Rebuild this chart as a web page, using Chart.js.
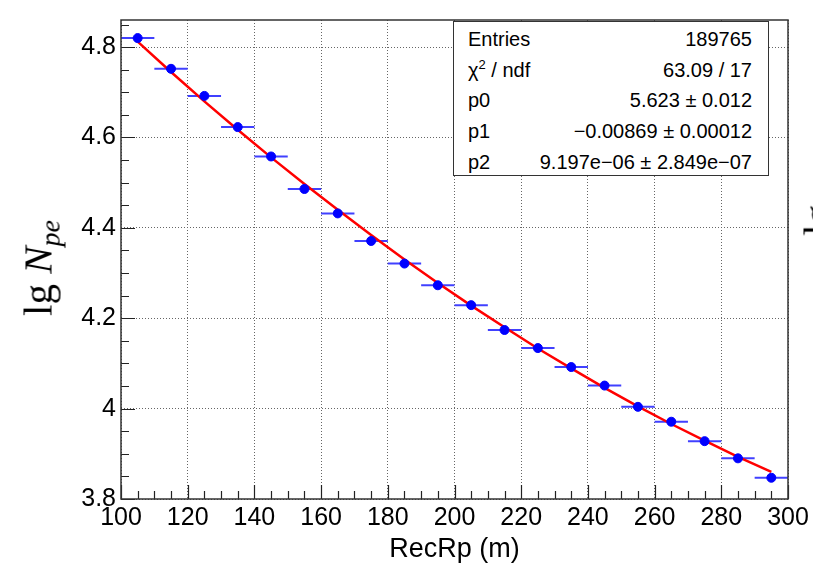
<!DOCTYPE html>
<html>
<head>
<meta charset="utf-8">
<script src="https://cdn.jsdelivr.net/npm/chart.js@4.4.1/dist/chart.umd.min.js"></script>
<style>
  html, body { margin: 0; padding: 0; background: #fff; overflow: hidden; }
  #wrap { position: relative; width: 813px; height: 569px; overflow: hidden; }
  #c { position: absolute; left: 0; top: 0; }
  #ytitle {
    position: absolute; left: 40px; top: 268px;
    transform: translate(-50%, -50%) rotate(-90deg);
    font-family: "Liberation Serif", "DejaVu Serif", serif; font-size: 41px;
    white-space: nowrap; color: #000;
  }
  #ytitle i { font-style: italic; }
  #ytitle sub { font-size: 28px; vertical-align: -8px; font-style: italic; }
  #stats {
    position: absolute; left: 453px; top: 21px; width: 316px; height: 155px;
    border: 1.5px solid #333; background: #fff;
    font-family: "Liberation Sans", Arial, sans-serif; font-size: 20px; color: #000;
    box-sizing: border-box; padding: 2px 16px 0 14px;
  }
  #stats .row { display: flex; justify-content: space-between; height: 30.7px; line-height: 30px; }
  #stats sup { font-size: 13px; vertical-align: 8px; line-height: 0; }
  #edge {
    position: absolute; left: 818px; top: 220px;
    transform: translate(-50%, -50%) rotate(-90deg);
    font-family: "Liberation Serif", serif; font-size: 40px; color: #000;
  }
</style>
</head>
<body>
<div id="wrap">
  <canvas id="c" width="813" height="569"></canvas>
  <div id="ytitle">lg <i>N</i><sub>pe</sub></div>
  <div id="stats">
    <div class="row"><span>Entries</span><span>189765</span></div>
    <div class="row"><span>&chi;<sup>2</sup> / ndf</span><span>63.09 / 17</span></div>
    <div class="row"><span>p0</span><span>5.623 &plusmn; 0.012</span></div>
    <div class="row"><span>p1</span><span>&minus;0.00869 &plusmn; 0.00012</span></div>
    <div class="row"><span>p2</span><span>9.197e&minus;06 &plusmn; 2.849e&minus;07</span></div>
  </div>
  <div id="edge">lg</div>
</div>
<script>
// bin centres (RecRp, m) and profile means
const rpCenters = [105, 115, 125, 135, 145, 155, 165, 175, 185, 195,
                   205, 215, 225, 235, 245, 255, 265, 275, 285, 295];
const lgNpe = [4.820, 4.752, 4.692, 4.623, 4.558, 4.486, 4.432, 4.371, 4.321, 4.273,
               4.229, 4.174, 4.134, 4.092, 4.051, 4.004, 3.971, 3.928, 3.890, 3.847];
const rpHalfWidth = [5, 5, 5, 5, 5, 5, 5, 5, 5, 5, 5, 5, 5, 5, 5, 5, 5, 5, 5, 5];

// pol2 fit curve
const fitRp = [105, 115, 125, 135, 145, 155, 165, 175, 185, 195,
               205, 215, 225, 235, 245, 255, 265, 275, 285, 295];
const fitLg = [4.812, 4.745, 4.680, 4.617, 4.556, 4.497, 4.440, 4.384, 4.330, 4.278,
               4.228, 4.180, 4.133, 4.089, 4.046, 4.005, 3.966, 3.929, 3.893, 3.860];

const xTicks = [100, 120, 140, 160, 180, 200, 220, 240, 260, 280, 300];
const yTicks = [3.8, 4.0, 4.2, 4.4, 4.6, 4.8];

const tickFont = { family: "'Liberation Sans', Arial, sans-serif", size: 25 };

// horizontal error bars under the markers
const errorBars = {
    id: 'errorBars',
    beforeDatasetsDraw(chart) {
        const { ctx, scales: { x, y } } = chart;
        ctx.save();
        ctx.strokeStyle = '#4040ff';
        ctx.lineWidth = 2;
        rpCenters.forEach((rp, i) => {
            const py = y.getPixelForValue(lgNpe[i]);
            ctx.beginPath();
            ctx.moveTo(x.getPixelForValue(rp - rpHalfWidth[i]), py);
            ctx.lineTo(x.getPixelForValue(rp + rpHalfWidth[i]), py);
            ctx.stroke();
        });
        ctx.restore();
    }
};

// ROOT style frame with inward ticks
const frameTicks = {
    id: 'frameTicks',
    afterDraw(chart) {
        const { ctx, chartArea: a, scales: { x, y } } = chart;
        ctx.save();
        ctx.strokeStyle = '#222';
        ctx.lineWidth = 1.2;
        ctx.beginPath();
        for (let v = 100; v <= 300.001; v += 5) {
            const px = Math.round(x.getPixelForValue(v)) + 0.5;
            const len = Math.abs(v % 20) < 0.01 ? 14 : 8;
            ctx.moveTo(px, a.bottom);
            ctx.lineTo(px, a.bottom - len);
        }
        for (let k = 0; k <= 21; k++) {
            const v = 3.8 + k * 0.05;
            const py = Math.round(y.getPixelForValue(v)) + 0.5;
            const len = k % 4 === 0 ? 14 : 8;
            ctx.moveTo(a.left, py);
            ctx.lineTo(a.left + len, py);
        }
        ctx.stroke();
        ctx.strokeStyle = '#333';
        ctx.lineWidth = 1.5;
        ctx.strokeRect(a.left, a.top, a.right - a.left, a.bottom - a.top);
        ctx.restore();
    }
};

new Chart(document.getElementById('c'), {
    type: 'scatter',
    data: {
        datasets: [{
            label: 'profile',
            data: rpCenters.map((rp, i) => ({ x: rp, y: lgNpe[i] })),
            backgroundColor: '#0000ff',
            borderColor: '#0000ff',
            pointRadius: 4.5,
            order: 0
        }, {
            type: 'line',
            label: 'fit',
            data: fitRp.map((rp, i) => ({ x: rp, y: fitLg[i] })),
            borderColor: '#ff0000',
            borderWidth: 2.5,
            pointRadius: 0,
            tension: 0,
            fill: false,
            order: 1
        }]
    },
    options: {
        responsive: false,
        animation: false,
        events: [],
        layout: { padding: { left: 0, right: 25, top: 17, bottom: 0 } },
        plugins: { legend: { display: false }, tooltip: { enabled: false } },
        scales: {
            x: {
                type: 'linear', min: 100, max: 300,
                afterBuildTicks: s => { s.ticks = xTicks.map(v => ({ value: v })); },
                afterFit: s => { s.height = 70; },
                grid: { color: '#666', lineWidth: 1, drawTicks: false },
                border: { display: false, dash: [1, 2] },
                ticks: { color: '#000', font: tickFont, padding: 4, maxRotation: 0, autoSkip: false },
                title: {
                    display: true, text: 'RecRp (m)', color: '#000',
                    font: { family: "'Liberation Sans', Arial, sans-serif", size: 27 },
                    padding: { top: 0, bottom: 3 }
                }
            },
            y: {
                type: 'linear', min: 3.8, max: 4.86,
                afterBuildTicks: s => { s.ticks = yTicks.map(v => ({ value: v })); },
                afterFit: s => { s.width = 121; },
                grid: { color: '#666', lineWidth: 1, drawTicks: false },
                border: { display: false, dash: [1, 2] },
                ticks: {
                    color: '#000', font: tickFont, padding: 5,
                    callback: v => String(+v.toFixed(2))
                }
            }
        }
    },
    plugins: [errorBars, frameTicks]
});
</script>
</body>
</html>
